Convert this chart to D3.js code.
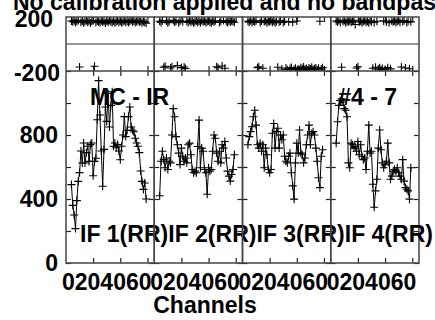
<!DOCTYPE html>
<html lang="en">
<head>
<meta charset="UTF-8">
<title>POSSM spectrum</title>
<script src="https://d3js.org/d3.v7.min.js"></script>
<style>
  html, body { margin: 0; padding: 0; background: #fff; }
  svg { display: block; }
  text { font-family: "Liberation Sans", Arial, sans-serif; font-weight: bold; fill: #000; }
</style>
</head>
<body>
<div id="chart"></div>
<script>
const w = 435;
const h = 320;

// panels / labels
const ifLabels = ['IF 1(RR)', 'IF 2(RR)', 'IF 3(RR)', 'IF 4(RR)'];
const xTicks = [20, 40, 60];
const xTickLabels = ['0', '20', '40', '60'];
const ampTicks = [0, 200, 400, 600, 800, 1000, 1200];
const ampLabels = [0, 400, 800];
const phaseLabels = [200, -200];

// channels 4..59
const channels = [4,5,6,7,8,9,10,11,12,13,14,15,16,17,18,19,20,21,22,23,24,25,26,27,28,29,30,31,
                  32,33,34,35,36,37,38,39,40,41,42,43,44,45,46,47,48,49,50,51,52,53,54,55,56,57,58,59];

// amplitude per IF
const amp1 = [490,360,300,215,390,510,565,700,625,750, 625,690,730,635,740,750,545,635,655,895,
              1140,925,700,480,710,975,885,1060,850,985, 1070,730,750,720,740,700,645,730,800,915,
              790,830,915,975,850,830,820,780,750,730, 690,575,510,460,500,400];
const amp2 = [420,636,698,646,595,656,584,636,626,800, 965,914,790,739,687,615,718,667,636,656,
              626,739,749,677,584,564,574,564,728,893, 595,718,698,584,564,430,595,574,584,698,
              800,780,687,636,698,626,739,718,759,656, 574,543,512,553,584,677];
const amp3 = [739,790,821,852,914,955,862,739,718,749, 698,739,595,718,677,584,564,584,811,872,
              718,821,842,718,800,770,800,667,636,626, 667,687,564,482,399,626,749,687,831,687,
              677,626,656,739,800,862,739,811,821,800, 718,636,533,471,667,708];
const amp4 = [749,883,985,1016,1027,1006,965,955,914,626, 595,749,739,718,728,698,759,677,739,667,
              646,656,584,698,862,687,698,492,348,451, 523,718,831,708,626,595,615,636,749,626,
              523,543,574,584,574,595,564,543,523,646, 512,471,461,451,399,595];

// phase per IF (degrees)
const phase1 = [170,165,172,160,168,175,-170,162,170,158, 166,174,163,170,156,168,172,-165,160,170,
                165,158,172,163,168,155,170,162,175,166, 160,171,158,167,173,161,169,157,165,174,
                162,170,159,168,176,164,171,160,167,174, 163,169,158,166,162,155];
const phase2 = [168,160,173,-172,-165,170,158,166,-178,-168, 175,162,169,-160,157,171,-175,164,-170,-182,
                168,160,174,163,170,156,167,172,161,169, 158,175,164,170,160,167,173,162,158,170,
                165,172,-168,-176,160,168,-163,174,-180,166, 159,170,163,172,167,161];
const phase3 = [168,162,174,159,170,165,172,-175,-168,160, 171,-180,166,173,158,169,164,175,161,170,
                157,167,-172,163,171,-185,160,168,-178,-190, 165,-182,-174,162,-188,-179,170,-185,-192,-176,
                -184,-170,-189,-181,-193,-177,-186,-172,-190,-183, -178,-191,-180,168,-186,-175];
const phase4 = [170,163,174,160,-172,167,175,158,169,164, 172,161,168,176,145,-178,-168,163,171,158,
                166,174,162,169,157,172,165,-180,160,-172, 168,-186,-176,-190,-182,171,-188,163,-175,158,
                -184,170,165,173,160,168,175,162,-170,167, 172,-178,160,169,-183,164];

const ampSeries = [amp1, amp2, amp3, amp4];
const phaseSeries = [phase1, phase2, phase3, phase4];

const left = 66, right = 419;
const phTop = 17, split = 71, ampBottom = 263;
const fs = 23;

const panelScale = d3.scaleBand().domain(ifLabels).range([left, right]);
const pw = panelScale.bandwidth();
const xScale = d3.scaleLinear().domain([0, 65]).range([0, pw]);
const ampY = d3.scaleLinear().domain([0, 1200]).range([ampBottom, split]);
const phY = d3.scaleLinear().domain([-200, 200]).range([split, phTop]);

const svg = d3.select('#chart').append('svg')
    .attr('width', w)
    .attr('height', h);

// title (runs off the page like the original)
svg.append('text')
    .attr('x', 13).attr('y', 10)
    .style('font-size', fs + 'px')
    .text('No calibration applied and no bandpass applied');

const cross = 4;
const line = d3.line()
    .x(d => xScale(d[0]))
    .y(d => ampY(d[1]));

ifLabels.forEach((name, k) => {
    const x0 = panelScale(name);
    const g = svg.append('g').attr('transform', `translate(${x0},0)`);

    const clipA = 'clipA' + k, clipP = 'clipP' + k;
    g.append('clipPath').attr('id', clipA).append('rect')
        .attr('x', 0).attr('y', split).attr('width', pw).attr('height', ampBottom - split);
    g.append('clipPath').attr('id', clipP).append('rect')
        .attr('x', 0).attr('y', phTop).attr('width', pw).attr('height', split - phTop);

    // ticks
    const tk = 5;
    g.append('g').attr('transform', `translate(0,${ampBottom})`)
        .call(d3.axisBottom(xScale).tickValues(xTicks).tickSize(-tk).tickFormat(''));
    g.append('g').attr('transform', `translate(0,${split})`)
        .call(d3.axisTop(xScale).tickValues(xTicks).tickSize(-tk).tickFormat(''));
    g.append('g').attr('transform', `translate(0,${split})`)
        .call(d3.axisBottom(xScale).tickValues(xTicks).tickSize(-tk).tickFormat(''));
    g.append('g').attr('transform', `translate(0,${phTop})`)
        .call(d3.axisTop(xScale).tickValues(xTicks).tickSize(-tk).tickFormat(''));
    g.append('g')
        .call(d3.axisLeft(ampY).tickValues(ampTicks).tickSize(-tk).tickFormat(''));
    g.append('g').attr('transform', `translate(${pw},0)`)
        .call(d3.axisRight(ampY).tickValues(ampTicks).tickSize(-tk).tickFormat(''));
    g.selectAll('.domain').remove();
    g.selectAll('.tick line').attr('stroke', '#222').attr('stroke-width', 1.2);

    // zero phase line
    g.append('line')
        .attr('x1', 0).attr('x2', pw)
        .attr('y1', phY(0)).attr('y2', phY(0))
        .attr('stroke', '#333').attr('stroke-width', 1.2);

    // amplitude line + crosses
    const ampPts = channels.map((c, i) => [c, ampSeries[k][i]]);
    const ag = g.append('g').attr('clip-path', `url(#${clipA})`);
    ag.append('path')
        .datum(ampPts)
        .attr('d', line)
        .attr('fill', 'none')
        .attr('stroke', '#000')
        .attr('stroke-width', 1);
    ag.selectAll('path.m')
        .data(ampPts)
        .enter().append('path')
        .attr('class', 'm')
        .attr('d', d => {
            const x = xScale(d[0]), y = ampY(d[1]);
            return `M${x - cross},${y}H${x + cross}M${x},${y - cross}V${y + cross}`;
        })
        .attr('stroke', '#000').attr('stroke-width', 1.1);

    // phase crosses
    const phPts = channels.map((c, i) => [c, phaseSeries[k][i]]);
    g.append('g').attr('clip-path', `url(#${clipP})`)
        .selectAll('path')
        .data(phPts)
        .enter().append('path')
        .attr('d', d => {
            const x = xScale(d[0]), y = phY(d[1]);
            return `M${x - cross},${y}H${x + cross}M${x},${y - cross}V${y + cross}`;
        })
        .attr('stroke', '#000').attr('stroke-width', 1.1);

    // frame
    g.append('rect')
        .attr('x', 0).attr('y', phTop).attr('width', pw).attr('height', ampBottom - phTop)
        .attr('fill', 'none').attr('stroke', '#444').attr('stroke-width', 1.5);
    g.append('line')
        .attr('x1', 0).attr('x2', pw).attr('y1', split).attr('y2', split)
        .attr('stroke', '#444').attr('stroke-width', 1.5);

    // x tick labels, packed tight like the original
    const dw = fs * 0.556;
    let pos = -4;
    xTickLabels.forEach(t => {
        g.append('text')
            .attr('x', pos).attr('y', 290)
            .style('font-size', fs + 'px')
            .text(t);
        pos += t.length * dw;
    });

    // IF label
    g.append('text')
        .attr('x', 14).attr('y', 242)
        .style('font-size', fs + 'px')
        .text(name);
});

// amplitude labels
svg.selectAll('text.amp')
    .data(ampLabels)
    .enter().append('text')
    .attr('class', 'amp')
    .attr('x', 58)
    .attr('y', d => ampY(d))
    .attr('dy', '0.36em')
    .attr('text-anchor', 'end')
    .style('font-size', fs + 'px')
    .text(d => d);

// phase labels
svg.selectAll('text.ph')
    .data(phaseLabels)
    .enter().append('text')
    .attr('class', 'ph')
    .attr('x', d => d > 0 ? 53 : 60)
    .attr('y', d => phY(d) + 2)
    .attr('dy', '0.36em')
    .attr('text-anchor', 'end')
    .style('font-size', fs + 'px')
    .text(d => d);

// source / baseline annotations
svg.append('text')
    .attr('x', 90).attr('y', 105)
    .style('font-size', fs + 'px')
    .text('MC - IR');
svg.append('text')
    .attr('x', 397).attr('y', 105)
    .attr('text-anchor', 'end')
    .style('font-size', fs + 'px')
    .text('#4 - 7');

// x axis title
svg.append('text')
    .attr('x', 205).attr('y', 313)
    .attr('text-anchor', 'middle')
    .style('font-size', fs + 'px')
    .text('Channels');
</script>
</body>
</html>
